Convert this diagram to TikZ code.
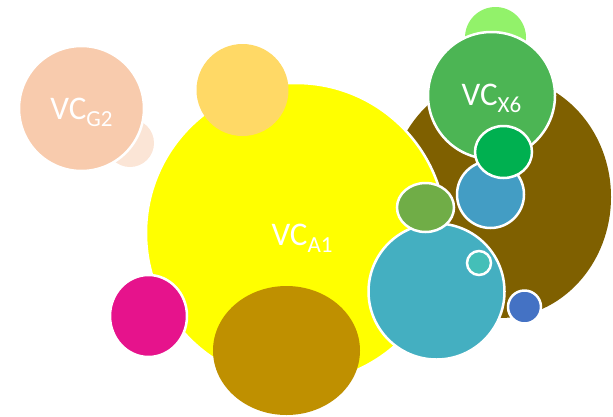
\documentclass[tikz,border=0pt]{standalone}
\usepackage{fontspec}
\setmainfont{Carlito}
\definecolor{vcyellow}{HTML}{FFFF00}
\definecolor{vcbrown}{HTML}{7F6000}
\definecolor{vcgold}{HTML}{BF9000}
\definecolor{vcorange}{HTML}{FFD966}
\definecolor{vcpeach}{HTML}{F8CBAD}
\definecolor{vclightpeach}{HTML}{FBE5D6}
\definecolor{vcmagenta}{HTML}{E6138C}
\definecolor{vclightgreen}{HTML}{92F26A}
\definecolor{vcgreen}{HTML}{4CB554}
\definecolor{vcdarkgreen}{HTML}{00B050}
\definecolor{vcblue}{HTML}{439DC4}
\definecolor{vcolive}{HTML}{70AD47}
\definecolor{vcteal}{HTML}{44AFC1}
\definecolor{vcaqua}{HTML}{44BFB8}
\definecolor{vcroyal}{HTML}{4472C4}
\tikzset{
  bubble/.style={draw=white, line width=2.5pt},
  flat/.style={draw=none},
  vclabel/.style={text=white, inner sep=0pt, anchor=base, font=\fontsize{33}{33}\selectfont},
}
\newcommand{\vcsub}[1]{\raisebox{-7pt}{\fontsize{23}{23}\selectfont #1}}

\begin{document}
\begin{tikzpicture}[x=1pt, y=-1pt]
  \useasboundingbox (0,0) rectangle (613,416);
  % left group
  \fill[vclightpeach] (130,143) circle [radius=24pt];
  \filldraw[bubble, fill=vcpeach] (81.5,108.5) circle [radius=62.5pt];
  % right group, back to front
  \fill[vclightgreen] (495.5,37.5) circle [radius=30.5pt];
  \fill[vcbrown] (500,197) ellipse [x radius=111pt, y radius=121pt];
  \filldraw[bubble, fill=vcyellow] (296,233) circle [radius=150pt];
  \fill[vcorange] (242.5,90) circle [radius=46pt];
  \fill[vcgold] (286.5,350.5) ellipse [x radius=73.5pt, y radius=64.5pt];
  \filldraw[bubble, fill=vcmagenta] (148.5,316) ellipse [x radius=38.5pt, y radius=41pt];
  \filldraw[bubble, fill=vcgreen] (491.5,95.5) circle [radius=63.5pt];
  \filldraw[bubble, fill=vcblue] (490.5,194.5) circle [radius=33.5pt];
  \filldraw[bubble, fill=vcdarkgreen] (503.5,152) ellipse [x radius=28.5pt, y radius=26pt];
  \filldraw[bubble, fill=vcteal] (436.5,291.5) circle [radius=68pt];
  \filldraw[bubble, fill=vcolive] (425.5,207.5) ellipse [x radius=28.5pt, y radius=24.5pt];
  \filldraw[bubble, fill=vcaqua] (479,263) circle [radius=12pt];
  \filldraw[bubble, fill=vcroyal] (524.5,307) circle [radius=16.5pt];
  % labels
  \node[vclabel] (g2) at (81.5,119) {VC\vcsub{G2}};
  \node[vclabel] (a1) at (302,245) {VC\vcsub{A1}};
  \node[vclabel] (x6) at (491.5,105) {VC\vcsub{X6}};
\end{tikzpicture}
\end{document}
